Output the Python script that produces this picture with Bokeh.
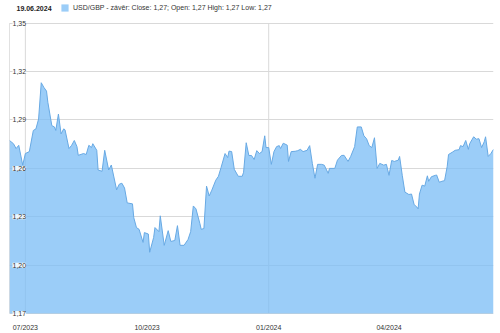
import pandas as pd
from bokeh.plotting import figure
from bokeh.models import (Range1d, FixedTicker, DatetimeTickFormatter, Label,
                          Legend, LegendItem, ColumnDataSource)
from bokeh.embed import file_html
from bokeh.resources import INLINE

dates = [
    "2023-06-19", "2023-06-22", "2023-06-24", "2023-06-26", "2023-06-29", "2023-07-01",
    "2023-07-04", "2023-07-07", "2023-07-09", "2023-07-11", "2023-07-13", "2023-07-15",
    "2023-07-17", "2023-07-18", "2023-07-21", "2023-07-23", "2023-07-24", "2023-07-26",
    "2023-07-28", "2023-07-30", "2023-07-31", "2023-08-03", "2023-08-05", "2023-08-07",
    "2023-08-09", "2023-08-10", "2023-08-14", "2023-08-16", "2023-08-18", "2023-08-20",
    "2023-08-21", "2023-08-24", "2023-08-25", "2023-08-28", "2023-08-30", "2023-09-02",
    "2023-09-04", "2023-09-08", "2023-09-10", "2023-09-12", "2023-09-14", "2023-09-16",
    "2023-09-20", "2023-09-21", "2023-09-23", "2023-09-25", "2023-09-28", "2023-09-29",
    "2023-10-02", "2023-10-03", "2023-10-06", "2023-10-07", "2023-10-10", "2023-10-11",
    "2023-10-14", "2023-10-17", "2023-10-19", "2023-10-22", "2023-10-24", "2023-10-26",
    "2023-10-29", "2023-11-01", "2023-11-03", "2023-11-05", "2023-11-07", "2023-11-10",
    "2023-11-11", "2023-11-13", "2023-11-15", "2023-11-17", "2023-11-19", "2023-11-22",
    "2023-11-24", "2023-11-26", "2023-11-29", "2023-12-01", "2023-12-02", "2023-12-04",
    "2023-12-06", "2023-12-09", "2023-12-12", "2023-12-13", "2023-12-15", "2023-12-17",
    "2023-12-19", "2023-12-21", "2023-12-23", "2023-12-25", "2023-12-27", "2023-12-29",
    "2023-12-30", "2024-01-01", "2024-01-03", "2024-01-05", "2024-01-07", "2024-01-09",
    "2024-01-10", "2024-01-12", "2024-01-15", "2024-01-16", "2024-01-18", "2024-01-21",
    "2024-01-23", "2024-01-25", "2024-01-27", "2024-01-30", "2024-02-01", "2024-02-03",
    "2024-02-05", "2024-02-07", "2024-02-10", "2024-02-12", "2024-02-15", "2024-02-16",
    "2024-02-20", "2024-02-22", "2024-02-25", "2024-02-27", "2024-03-01", "2024-03-03",
    "2024-03-06", "2024-03-08", "2024-03-11", "2024-03-13", "2024-03-15", "2024-03-17",
    "2024-03-19", "2024-03-21", "2024-03-23", "2024-03-25", "2024-03-28", "2024-03-30",
    "2024-04-01", "2024-04-03", "2024-04-05", "2024-04-08", "2024-04-09", "2024-04-11",
    "2024-04-13", "2024-04-16", "2024-04-18", "2024-04-20", "2024-04-22", "2024-04-23",
    "2024-04-24", "2024-04-26", "2024-04-28", "2024-04-30", "2024-05-01", "2024-05-03",
    "2024-05-06", "2024-05-07", "2024-05-09", "2024-05-11", "2024-05-13", "2024-05-15",
    "2024-05-16", "2024-05-19", "2024-05-21", "2024-05-24", "2024-05-25", "2024-05-27",
    "2024-05-29", "2024-05-31", "2024-06-01", "2024-06-04", "2024-06-06", "2024-06-08",
    "2024-06-10", "2024-06-12", "2024-06-13", "2024-06-15", "2024-06-17", "2024-06-19",
]

close = [
    1.2773, 1.2753, 1.2723, 1.2743, 1.2620, 1.2692,
    1.2704, 1.2835, 1.2845, 1.2906, 1.3131, 1.3102,
    1.3079, 1.3010, 1.2865, 1.2857, 1.2835, 1.2937,
    1.2814, 1.2845, 1.2839, 1.2723, 1.2743, 1.2773,
    1.2735, 1.2681, 1.2692, 1.2686, 1.2743, 1.2729,
    1.2753, 1.2712, 1.2590, 1.2582, 1.2712, 1.2590,
    1.2621, 1.2467, 1.2502, 1.2508, 1.2478, 1.2386,
    1.2380, 1.2294, 1.2233, 1.2222, 1.2141, 1.2202,
    1.2193, 1.2080, 1.2172, 1.2233, 1.2208, 1.2306,
    1.2123, 1.2214, 1.2147, 1.2153, 1.2245, 1.2123,
    1.2123, 1.2159, 1.2208, 1.2367, 1.2349, 1.2257,
    1.2222, 1.2227, 1.2490, 1.2429, 1.2465, 1.2527,
    1.2551, 1.2606, 1.2692, 1.2667, 1.2707, 1.2704,
    1.2594, 1.2551, 1.2551, 1.2576, 1.2759, 1.2680,
    1.2680, 1.2655, 1.2710, 1.2692, 1.2704, 1.2802,
    1.2729, 1.2729, 1.2625, 1.2704, 1.2735, 1.2741,
    1.2723, 1.2756, 1.2744, 1.2643, 1.2704, 1.2706,
    1.2710, 1.2718, 1.2704, 1.2712, 1.2741, 1.2631,
    1.2539, 1.2625, 1.2625, 1.2620, 1.2569, 1.2600,
    1.2600, 1.2651, 1.2680, 1.2681, 1.2643, 1.2674,
    1.2735, 1.2857, 1.2857, 1.2802, 1.2784, 1.2741,
    1.2729, 1.2790, 1.2600, 1.2631, 1.2620, 1.2625,
    1.2557, 1.2649, 1.2643, 1.2651, 1.2674, 1.2557,
    1.2453, 1.2438, 1.2441, 1.2375, 1.2361, 1.2349,
    1.2441, 1.2496, 1.2490, 1.2554, 1.2520, 1.2548,
    1.2557, 1.2559, 1.2514, 1.2520, 1.2524, 1.2612,
    1.2686, 1.2701, 1.2712, 1.2716, 1.2741, 1.2735,
    1.2773, 1.2718, 1.2753, 1.2796, 1.2781, 1.2784,
    1.2729, 1.2765, 1.2796, 1.2674, 1.2692, 1.2718,
]

y_ticks = [1.17, 1.20, 1.23, 1.26, 1.29, 1.32, 1.35]
x_tick_dates = ["2023-07-01", "2023-10-01", "2024-01-01", "2024-04-01"]
x_grid_dates = ["2023-07-01", "2024-01-01"]
date_title = "19.06.2024"
legend_text = "USD/GBP - závěr: Close: 1,27; Open: 1,27 High: 1,27 Low: 1,27"

FONT = "Liberation Sans"
GRID = "#d9d9d9"

x = pd.to_datetime(dates)

def ms(s):
    return pd.Timestamp(s).value / 1e6

# layout: frame spans canvas y 0..321; value axis occupies 23..317 px
PX_TOP, PX_BOTTOM, FRAME_H = 23, 317, 321
per_px = (y_ticks[-1] - y_ticks[0]) / (PX_BOTTOM - PX_TOP)
y_end = y_ticks[-1] + PX_TOP * per_px
y_start = y_ticks[0] - (FRAME_H - PX_BOTTOM) * per_px

src = ColumnDataSource(dict(x=x, close=close, base=[y_ticks[0]] * len(close)))

p = figure(width=500, height=333, x_axis_type="datetime", output_backend="svg",
           toolbar_location=None,
           x_range=Range1d(x[0], x[-1]), y_range=Range1d(y_start, y_end),
           min_border_left=9, min_border_right=7, min_border_top=0, min_border_bottom=12)

p.background_fill_color = "white"
p.border_fill_color = "white"
p.outline_line_color = None

# vertical grid lines and left edge line, limited to the value band
vx = [x[0]] + list(pd.to_datetime(x_grid_dates))
vcol = ["#c4c4c4"] + [GRID] * len(x_grid_dates)
p.segment(x0=vx, x1=vx, y0=[y_ticks[0]] * len(vx), y1=[y_ticks[-1]] * len(vx),
          line_color=vcol, line_width=1)

area = p.varea(x="x", y1="base", y2="close", source=src,
               fill_color="#7abcf6", fill_alpha=0.75)
p.line(x="x", y="close", source=src, line_color="#68a9e3", line_width=1)

p.yaxis.visible = False
p.ygrid.ticker = FixedTicker(ticks=y_ticks)
p.ygrid.grid_line_color = GRID
p.xgrid.visible = False

p.xaxis.ticker = FixedTicker(ticks=[ms(d) for d in x_tick_dates])
fmt = "%m/%Y"
p.xaxis.formatter = DatetimeTickFormatter(years=fmt, months=fmt, days=fmt, hours=fmt,
                                          minutes=fmt, seconds=fmt, milliseconds=fmt,
                                          microseconds=fmt, minsec=fmt, hourmin=fmt)
p.xaxis.axis_line_color = None
p.xaxis.major_tick_line_color = None
p.xaxis.minor_tick_line_color = None
p.xaxis.major_label_standoff = 0
p.xaxis.major_label_text_font = FONT
p.xaxis.major_label_text_font_size = "7px"
p.xaxis.major_label_text_color = "#333333"

for t in y_ticks:
    p.add_layout(Label(x=3, x_units="screen", y=t, text=f"{t:.2f}".replace(".", ","),
                       text_baseline="middle", text_font=FONT, text_font_size="7px",
                       text_color="#333333", background_fill_color="white",
                       background_fill_alpha=0.85))

p.add_layout(Label(x=7, y=FRAME_H - 12, x_units="screen", y_units="screen", text=date_title,
                   text_baseline="middle", text_font=FONT, text_font_size="7px",
                   text_font_style="bold", text_color="#222222"))

legend = Legend(items=[LegendItem(label=legend_text, renderers=[area])],
                location=(51, FRAME_H - 16), orientation="horizontal",
                background_fill_alpha=0, border_line_color=None,
                padding=0, margin=0, spacing=0,
                glyph_width=9, glyph_height=9, label_standoff=4, label_height=9,
                label_text_font=FONT, label_text_font_size="7px",
                label_text_color="#333333")
p.add_layout(legend)

open("out.html", "w").write(file_html(p, INLINE))
